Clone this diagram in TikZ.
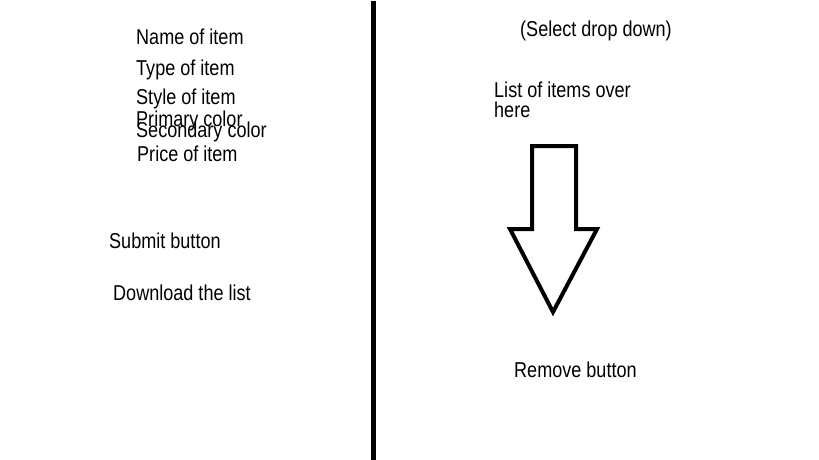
\documentclass[tikz,border=0pt]{standalone}
\usepackage{fontspec}
\setmainfont{Liberation Sans}[FakeStretch=0.84]
\begin{document}
\begin{tikzpicture}[x=1pt,y=-1pt,
  lbl/.style={anchor=base west,inner sep=0pt,font=\fontsize{21.5}{20}\selectfont},
  divider/.style={line width=4.5pt},
  bigarrow/.style={line width=4pt,line join=miter}]
\useasboundingbox[fill=white] (0,0) rectangle (819,460);
% left column
\node[lbl] (name) at (136,45) {Name of item};
\node[lbl] (type) at (136,75) {Type of item};
\node[lbl] (style) at (136,104) {Style of item};
\node[lbl] (prim) at (136,126) {Primary color};
\node[lbl] (sec) at (136,137) {Secondary color};
\node[lbl] (price) at (137,161) {Price of item};
\node[lbl] (submit) at (109,248) {Submit button};
\node[lbl] (download) at (113,300) {Download the list};
% divider
\coordinate (dtop) at (373.5,1);
\coordinate (dbot) at (373.5,460);
\draw[divider] (dtop) -- (dbot);
% right column
\node[lbl] (select) at (520,37) {(Select drop down)};
\node[lbl] (list) at (494,97) {List of items over};
\node[lbl] (here) at (494,117) {here};
\node[lbl] (remove) at (514,377) {Remove button};
% arrow
\draw[bigarrow] (532,146) -- (576,146) -- (576,229) -- (597,229) -- (553,312)
  -- (510,229) -- (532,229) -- cycle;
\end{tikzpicture}
\end{document}
